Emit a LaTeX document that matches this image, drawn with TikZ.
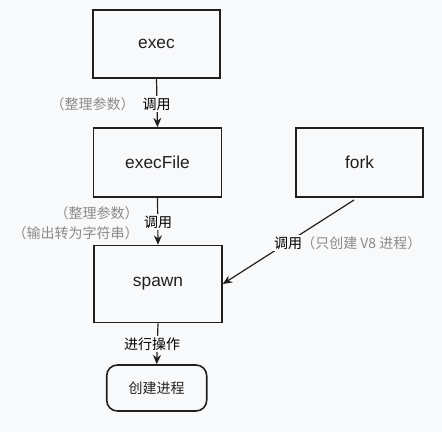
\documentclass[tikz,border=0pt]{standalone}
\usepackage{fontspec}
\setmainfont{Noto Sans CJK SC}
\newfontfamily\latinbox{Liberation Sans}
\usetikzlibrary{arrows.meta}
\definecolor{bgc}{HTML}{F8F9FB}
\definecolor{ink}{HTML}{231F20}
\definecolor{graytxt}{HTML}{8A8A8A}
\begin{document}
\begin{tikzpicture}[x=0.75pt,y=-0.75pt,
  box/.style={draw=ink,line width=1.2pt,minimum width=#1,inner sep=0pt,font=\latinbox\fontsize{13}{15}\selectfont,text=ink},
  conn/.style={draw=ink,line width=0.9pt,-{Stealth[length=7pt,width=6pt]}},
  lbl/.style={fill=bgc,inner sep=1pt,font=\fontsize{10.5}{12}\selectfont,text=black},
  note/.style={inner sep=0pt,font=\fontsize{10.5}{12}\selectfont,text=graytxt,align=right}]
\fill[bgc] (0,0) rectangle (442,432);
\useasboundingbox (0,0) rectangle (442,432);
\node[box=95.25pt,minimum height=51pt] (exec) at (156.5,44) {exec};
\node[box=96pt,minimum height=51.75pt] (execfile) at (157.5,162.5) {execFile};
\node[box=95.25pt,minimum height=51.75pt] (fork) at (359.5,162.5) {fork};
\node[box=96pt,minimum height=57.75pt] (spawn) at (158,284) {spawn};
\node[box=75pt,minimum height=34.5pt,rounded corners=8pt,font=\fontsize{10.5}{12}\selectfont] (create) at (156.7,388) {创建进程};
\draw[conn] (exec.south) -- (execfile.north);
\draw[conn] (execfile.south) -- (spawn.north);
\coordinate (fstart) at (354,200);
\draw[conn] (fstart) -- (spawn.east);
\draw[conn] (spawn.south) -- (create.north);
\node[lbl] (l1) at (156.5,104) {调用};
\node[note,anchor=east] (n1) at (135,104) {（整理参数）};
\node[lbl] (l2) at (158,222) {调用};
\node[note,anchor=east] (n2a) at (139,213) {（整理参数）};
\node[note,anchor=east] (n2b) at (139,233) {（输出转为字符串）};
\node[lbl] (l3) at (288,243) {调用};
\node[note,anchor=west] (n3) at (301,243) {（只创建 V8 进程）};
\node[lbl] (l4) at (152,344) {进行操作};
\end{tikzpicture}
\end{document}
